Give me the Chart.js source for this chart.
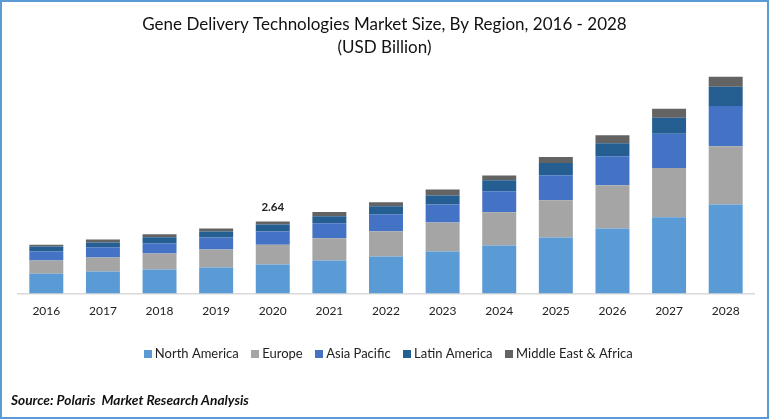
<!DOCTYPE html>
<html><head><meta charset="utf-8">
<script src="https://cdn.jsdelivr.net/npm/chart.js@4"></script>
<style>
html,body{margin:0;padding:0;background:#fff}
#wrap{position:relative;width:769px;height:419px;overflow:hidden}
#frame{position:absolute;left:0;top:0;width:769px;height:419px;box-sizing:border-box;border:2px solid #5b9bd5;pointer-events:none}
#source{position:absolute;left:11px;top:391px;font:italic bold 13.7px Lato,sans-serif;color:#111;white-space:pre}
canvas{display:block}
</style></head><body>
<div id="wrap"><canvas id="c" width="769" height="419"></canvas><div id="frame"></div>
<div id="source">Source: Polaris  Market Research Analysis</div></div>
<script>
const years=["2016","2017","2018","2019","2020","2021","2022","2023","2024","2025","2026","2027","2028"];
const northAmerica=[0.73,0.81,0.88,0.95,1.06,1.21,1.36,1.54,1.76,2.05,2.38,2.79,3.26];
const europe=[0.48,0.51,0.59,0.66,0.73,0.81,0.92,1.06,1.21,1.36,1.58,1.80,2.13];
const asiaPacific=[0.33,0.37,0.37,0.44,0.48,0.55,0.62,0.66,0.77,0.92,1.06,1.25,1.47];
const latinAmerica=[0.18,0.18,0.22,0.22,0.26,0.26,0.29,0.33,0.40,0.44,0.48,0.59,0.70];
const middleEastAfrica=[0.07,0.11,0.11,0.11,0.11,0.15,0.15,0.22,0.18,0.22,0.29,0.33,0.37];
const titleLines=["Gene Delivery Technologies Market Size, By Region, 2016 - 2028","(USD Billion)"];
const annotatedIndex=4, annotatedLabel="2.64";
const FONT="Lato, sans-serif";
const colors=['#5b9bd5','#a5a5a5','#4472c4','#255e91','#636363'];
const swatches=colors.map(c=>{const s=document.createElement('canvas');s.width=8;s.height=8;const g=s.getContext('2d');g.fillStyle=c;g.fillRect(0,0,8,8);return s;});
const labelPlugin={id:'totalLabel',
 afterLayout(chart){
  chart.legend.left+=4;chart.legend.right+=4;
  chart.titleBlock.left-=1.5;chart.titleBlock.right-=1.5;
 },
 afterDatasetsDraw(chart){
  const ctx=chart.ctx,x=chart.scales.x.getPixelForValue(annotatedIndex);
  const total=[northAmerica,europe,asiaPacific,latinAmerica,middleEastAfrica].reduce((s,a)=>s+a[annotatedIndex],0);
  const y=chart.scales.y.getPixelForValue(total);
  ctx.save();ctx.font='bold 11.5px '+FONT;ctx.fillStyle='#222';ctx.textAlign='center';ctx.textBaseline='bottom';
  ctx.fillText(annotatedLabel,x,y-8);ctx.restore();
}};
const ds=(label,data,color)=>({label,data,backgroundColor:color,stack:'s',categoryPercentage:1,barPercentage:0.6,borderWidth:0});
new Chart(document.getElementById('c'),{
  type:'bar',
  data:{labels:years,datasets:[
    ds('North America',northAmerica,colors[0]),
    ds('Europe',europe,colors[1]),
    ds('Asia Pacific',asiaPacific,colors[2]),
    ds('Latin America',latinAmerica,colors[3]),
    ds('Middle East & Africa',middleEastAfrica,colors[4])]},
  plugins:[labelPlugin],
  options:{
    responsive:false,animation:false,
    layout:{padding:{left:18,right:15,top:13,bottom:49}},
    scales:{
      x:{stacked:true,grid:{display:false,drawTicks:false},border:{color:'#d9d9d9',width:1.5},
         afterFit(s){s.height+=3;},
         ticks:{color:'#222',font:{family:FONT,size:12},padding:10,maxRotation:0}},
      y:{stacked:true,display:false,min:0,max:8.58}
    },
    plugins:{
      title:{display:true,text:titleLines,color:'#111',font:{family:FONT,size:17,weight:'normal',lineHeight:1.35},padding:{top:0,bottom:0}},
      legend:{position:'bottom',labels:{color:'#222',font:{family:FONT,size:13},usePointStyle:true,boxWidth:1,boxHeight:8,padding:16,
        generateLabels(chart){return Chart.defaults.plugins.legend.labels.generateLabels(chart).map((it,i)=>({...it,pointStyle:swatches[i]}));}}},
      tooltip:{enabled:false}
    }
  }
});
</script></body></html>
